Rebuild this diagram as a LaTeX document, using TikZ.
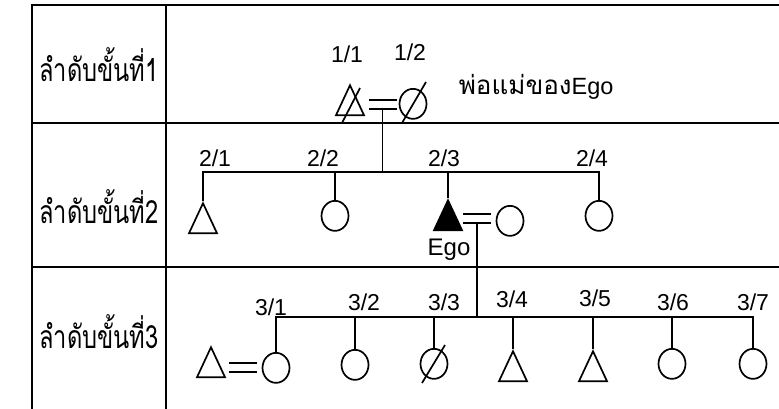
\documentclass[tikz,border=0pt]{standalone}
\usepackage{fontspec}
\setmainfont{Liberation Sans}
\newfontfamily\thaifont[Script=Thai, FakeStretch=0.74]{Loma}
\newfontfamily\thaiwide[Script=Thai]{Loma}
\usetikzlibrary{shapes.geometric}

\tikzset{
  male/.style={draw, isosceles triangle, shape border rotate=90,
    isosceles triangle stretches, minimum width=28pt, minimum height=30pt,
    inner sep=0pt, anchor=north},
  female/.style={draw, ellipse, minimum width=27pt, minimum height=30pt,
    inner sep=0pt, anchor=north},
  spouse/.style={double, double distance=7pt},
  lab/.style={anchor=base, font=\fontsize{23}{24}\selectfont},
  rowlab/.style={anchor=base, font=\thaifont\fontsize{32}{34}\selectfont},
}

\begin{document}
\begin{tikzpicture}[x=1pt, y=-1pt, line width=1.7pt]
  \useasboundingbox (0,0) rectangle (779,409);
  % table
  \draw (32,409) -- (32,5) -- (779,5);
  \draw (166,5) -- (166,409);
  \draw (32,123) -- (779,123);
  \draw (32,267) -- (779,267);
  \node[rowlab] (r1) at (99,82) {ลำดับขั้นที่1};
  \node[rowlab] (r2) at (99,223) {ลำดับขั้นที่2};
  \node[rowlab] (r3) at (99,348) {ลำดับขั้นที่3};

  % generation 1
  \node[male] (f11) at (350,83) {};
  \node[female] (m12) at (413,88) {};
  \draw ([shift={(-8,40)}]f11.north) -- ([shift={(10,5)}]f11.north);
  \draw ([shift={(-11,35)}]m12.north) -- ([shift={(13,-6)}]m12.north);
  \coordinate (u1) at (382.5,104.5);
  \draw[spouse] ([xshift=-14pt]u1) -- ([xshift=14pt]u1);
  \node[lab] (l11) at (347,63) {1/1};
  \node[lab] (l12) at (410,61) {1/2};
  \node[anchor=base west, inner sep=0pt, font=\fontsize{23.5}{24}\selectfont]
    (par) at (458,95) {{\thaiwide\fontsize{26}{28}\selectfont พ่อแม่ของ}Ego};

  % generation 2
  \coordinate (s2) at (382,172);
  \node[male] (c21) at (203,201) {};
  \node[female] (c22) at (335,200) {};
  \node[male, fill] (c23) at (448,198) {};
  \node[female] (c24) at (599,200) {};
  \node[female] (c23s) at (510,205) {};
  \draw (c21.north) -- (c21.north |- s2) -- (c24.north |- s2) -- (c24.north);
  \draw (c22.north) -- (c22.north |- s2);
  \draw (c23.north) -- (c23.north |- s2);
  \draw ([yshift=-4.25pt]u1) -- (u1 |- s2);
  \coordinate (u2) at (477,218.5);
  \draw[spouse] ([xshift=-14pt]u2) -- ([xshift=14pt]u2);
  \node[lab] (l21) at (215,167) {2/1};
  \node[lab] (l22) at (323,167) {2/2};
  \node[lab] (l23) at (444,167) {2/3};
  \node[lab] (l24) at (592,167) {2/4};
  \node[lab, font=\fontsize{24}{24}\selectfont] (ego) at (449,255) {Ego};

  % generation 3
  \coordinate (s3) at (476,317);
  \node[male] (g31s) at (211,345) {};
  \node[female] (g31) at (276,352) {};
  \node[female] (g32) at (355,349) {};
  \node[female] (g33) at (434,348) {};
  \node[male] (g34) at (513,349) {};
  \node[male] (g35) at (593,349) {};
  \node[female] (g36) at (672,348) {};
  \node[female] (g37) at (753,348) {};
  \draw ([shift={(-12,35)}]g33.north) -- ([shift={(11,-3)}]g33.north);
  \coordinate (u3) at (243,367.5);
  \draw[spouse] ([xshift=-14pt]u3) -- ([xshift=14pt]u3);
  \draw (g31.north) -- (g31.north |- s3) -- (g37.north |- s3) -- (g37.north);
  \draw (g32.north) -- (g32.north |- s3);
  \draw (g33.north) -- (g33.north |- s3);
  \draw (g34.north) -- (g34.north |- s3);
  \draw (g35.north) -- (g35.north |- s3);
  \draw (g36.north) -- (g36.north |- s3);
  \draw ([yshift=-4.25pt]u2) -- (u2 |- s3);
  \node[lab] (l31) at (271,315) {3/1};
  \node[lab] (l32) at (364,310) {3/2};
  \node[lab] (l33) at (444,310) {3/3};
  \node[lab] (l34) at (512,307) {3/4};
  \node[lab] (l35) at (595,306) {3/5};
  \node[lab] (l36) at (673,310) {3/6};
  \node[lab] (l37) at (753,310) {3/7};
\end{tikzpicture}
\end{document}
